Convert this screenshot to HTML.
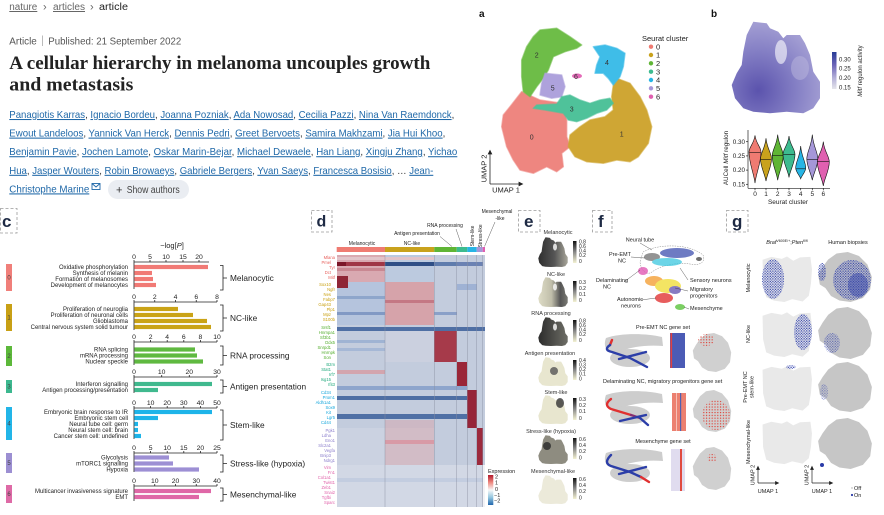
<!DOCTYPE html>
<html><head><meta charset="utf-8">
<style>
html,body{margin:0;padding:0;background:#fff;}
svg{display:block;}
text{font-family:"Liberation Sans",Arial,sans-serif;}
</style></head><body>
<svg width="884" height="515" viewBox="0 0 884 515" xmlns="http://www.w3.org/2000/svg">
<defs>
<path id="U" d="M25,1 L40,3 L43,8 L53,12 L58,19 L62,16 L77,16 L82,25 L88,38 L91,56 L99,67 L99,86 L91,97 L80,100 L62,99 L43,100 L25,99 L14,97 L4,86 L1,71 L6,58 L12,49 L14,34 L17,16 Z"/>
<path id="MU" d="M3,10 L20,4 L40,8 L50,3 L62,12 L75,5 L95,4 L98,30 L96,60 L92,85 L80,97 L60,92 L45,98 L25,95 L10,88 L4,60 Z"/>
<path id="HU" d="M35,3 L55,0 L75,8 L90,25 L98,50 L95,75 L82,92 L60,100 L40,97 L25,88 L15,72 L5,65 L2,45 L10,30 L20,15 Z"/>
<pattern id="pb" width="2.6" height="2.6" patternUnits="userSpaceOnUse"><circle cx="0.7" cy="0.7" r="0.7" fill="#2a3ba8"/><circle cx="2" cy="1.9" r="0.55" fill="#3a4ab8"/></pattern>
<pattern id="pr" width="2.8" height="2.8" patternUnits="userSpaceOnUse"><circle cx="1" cy="1" r="0.6" fill="#e03a30"/></pattern>
<linearGradient id="gk" x1="0" y1="0" x2="0" y2="1"><stop offset="0" stop-color="#111"/><stop offset="0.5" stop-color="#888"/><stop offset="1" stop-color="#f3f1d2"/></linearGradient>
<linearGradient id="gb" x1="0" y1="0" x2="0" y2="1"><stop offset="0" stop-color="#283c96"/><stop offset="0.35" stop-color="#6c64b8"/><stop offset="0.7" stop-color="#b4b0d8"/><stop offset="1" stop-color="#e4e4ea"/></linearGradient>
<linearGradient id="gx" x1="0" y1="0" x2="0" y2="1"><stop offset="0" stop-color="#b2182b"/><stop offset="0.25" stop-color="#ef8a80"/><stop offset="0.5" stop-color="#f7f7f7"/><stop offset="0.75" stop-color="#92c5de"/><stop offset="1" stop-color="#2166ac"/></linearGradient>
<radialGradient id="gpb" cx="0.3" cy="0.75" r="0.8"><stop offset="0" stop-color="#5b53ad"/><stop offset="0.55" stop-color="#8580c5"/><stop offset="1" stop-color="#a9a4d6"/></radialGradient>
<linearGradient id="e1" x1="0" y1="0" x2="1" y2="0"><stop offset="0" stop-color="#2e2e2e"/><stop offset="0.55" stop-color="#555"/><stop offset="1" stop-color="#a8a69a"/></linearGradient>
<linearGradient id="e2" x1="0" y1="0" x2="1" y2="0"><stop offset="0" stop-color="#dedcc6"/><stop offset="0.45" stop-color="#c0beaa"/><stop offset="0.75" stop-color="#555"/><stop offset="1" stop-color="#7a7a74"/></linearGradient>
<linearGradient id="e3" x1="0" y1="0" x2="1" y2="0"><stop offset="0" stop-color="#2c2c2c"/><stop offset="1" stop-color="#6e6e66"/></linearGradient>
</defs>

<!-- ===== HEADER ===== -->
<text x="9.3" y="10" font-size="10" fill="#666" text-decoration="underline" textLength="28" lengthAdjust="spacingAndGlyphs">nature</text>
<text x="43" y="10.5" font-size="11" fill="#666">›</text>
<text x="53" y="10" font-size="10" fill="#666" text-decoration="underline" textLength="32" lengthAdjust="spacingAndGlyphs">articles</text>
<text x="90" y="10.5" font-size="11" fill="#666">›</text>
<text x="99" y="10" font-size="10" fill="#222" textLength="29" lengthAdjust="spacingAndGlyphs">article</text>

<text x="9.3" y="44.5" font-size="10.5" fill="#555" textLength="27.5" lengthAdjust="spacingAndGlyphs">Article</text>
<line x1="42.5" y1="35.5" x2="42.5" y2="46" stroke="#aaa" stroke-width="0.8"/>
<text x="48.3" y="44.5" font-size="10.5" fill="#555" textLength="133" lengthAdjust="spacingAndGlyphs">Published: 21 September 2022</text>

<text x="9.3" y="69" font-size="19" font-weight="bold" fill="#222" style="font-family:'Liberation Serif',serif" textLength="421" lengthAdjust="spacingAndGlyphs">A cellular hierarchy in melanoma uncouples growth</text>
<text x="9.3" y="90.5" font-size="19" font-weight="bold" fill="#222" style="font-family:'Liberation Serif',serif" textLength="124" lengthAdjust="spacingAndGlyphs">and metastasis</text>

<g font-size="10.5" fill="#1f68a8">
<text x="9.3" y="118" textLength="445" lengthAdjust="spacingAndGlyphs"><tspan text-decoration="underline">Panagiotis Karras</tspan><tspan fill="#333">, </tspan><tspan text-decoration="underline">Ignacio Bordeu</tspan><tspan fill="#333">, </tspan><tspan text-decoration="underline">Joanna Pozniak</tspan><tspan fill="#333">, </tspan><tspan text-decoration="underline">Ada Nowosad</tspan><tspan fill="#333">, </tspan><tspan text-decoration="underline">Cecilia Pazzi</tspan><tspan fill="#333">, </tspan><tspan text-decoration="underline">Nina Van Raemdonck</tspan><tspan fill="#333">,</tspan></text>
<text x="9.3" y="136.6" textLength="436" lengthAdjust="spacingAndGlyphs"><tspan text-decoration="underline">Ewout Landeloos</tspan><tspan fill="#333">, </tspan><tspan text-decoration="underline">Yannick Van Herck</tspan><tspan fill="#333">, </tspan><tspan text-decoration="underline">Dennis Pedri</tspan><tspan fill="#333">, </tspan><tspan text-decoration="underline">Greet Bervoets</tspan><tspan fill="#333">, </tspan><tspan text-decoration="underline">Samira Makhzami</tspan><tspan fill="#333">, </tspan><tspan text-decoration="underline">Jia Hui Khoo</tspan><tspan fill="#333">,</tspan></text>
<text x="9.3" y="155.2" textLength="448" lengthAdjust="spacingAndGlyphs"><tspan text-decoration="underline">Benjamin Pavie</tspan><tspan fill="#333">, </tspan><tspan text-decoration="underline">Jochen Lamote</tspan><tspan fill="#333">, </tspan><tspan text-decoration="underline">Oskar Marin-Bejar</tspan><tspan fill="#333">, </tspan><tspan text-decoration="underline">Michael Dewaele</tspan><tspan fill="#333">, </tspan><tspan text-decoration="underline">Han Liang</tspan><tspan fill="#333">, </tspan><tspan text-decoration="underline">Xingju Zhang</tspan><tspan fill="#333">, </tspan><tspan text-decoration="underline">Yichao</tspan></text>
<text x="9.3" y="173.8" textLength="424" lengthAdjust="spacingAndGlyphs"><tspan text-decoration="underline">Hua</tspan><tspan fill="#333">, </tspan><tspan text-decoration="underline">Jasper Wouters</tspan><tspan fill="#333">, </tspan><tspan text-decoration="underline">Robin Browaeys</tspan><tspan fill="#333">, </tspan><tspan text-decoration="underline">Gabriele Bergers</tspan><tspan fill="#333">, </tspan><tspan text-decoration="underline">Yvan Saeys</tspan><tspan fill="#333">, </tspan><tspan text-decoration="underline">Francesca Bosisio</tspan><tspan fill="#333">, … </tspan><tspan text-decoration="underline">Jean-</tspan></text>
<text x="9.3" y="192.4" textLength="80" lengthAdjust="spacingAndGlyphs" text-decoration="underline">Christophe Marine</text>
</g>
<rect x="92" y="183.5" width="8" height="6" fill="none" stroke="#1f68a8" stroke-width="0.9"/>
<polyline points="92,183.5 96,187 100,183.5" fill="none" stroke="#1f68a8" stroke-width="0.9"/>
<rect x="108" y="180" width="81" height="19" rx="9.5" fill="#eaedf2"/>
<text x="116" y="193.5" font-size="11" fill="#333">+</text>
<text x="126.7" y="193" font-size="10" fill="#444" textLength="53" lengthAdjust="spacingAndGlyphs">Show authors</text>

<!-- ===== PANEL A ===== -->
<text x="479" y="17" font-size="10" font-weight="bold" fill="#111">a</text>
<g stroke-width="1.5" stroke-linejoin="round" stroke-opacity="0.6">
<polygon fill="#ee8680" stroke="#ee8680" points="521.7,91.7 540,100 561.7,103.3 566.7,120 566.7,136.7 570,146.7 561.7,153.3 563.3,166.7 556.7,171.7 546.7,166.7 533.3,173.3 520,170 513.3,160 506.7,146.7 501.7,126.7 503.3,115 510,106.7"/>
<polygon fill="#cfa634" stroke="#cfa634" points="616.7,78.3 630,83.3 640,96.7 646.7,110 651.7,126.7 648.3,143.3 638.3,156.7 630,161.7 616.7,160 603.3,163.3 586.7,161.7 575,156.7 568.3,146.7 570,135 580,126.7 590,120 605,116.7 613.3,110 611.7,96.7 613.3,85"/>
<polygon fill="#6ebd48" stroke="#6ebd48" points="540,30 556.7,28.3 570,36.7 581.7,45 576.7,48.3 565,51.7 553.3,56.7 548.3,70 543.3,78.3 536.7,86.7 530,96.7 523.3,91.7 521.7,76.7 521.7,60 526.7,46.7 533.3,36.7"/>
<polygon fill="#aea2dc" stroke="#aea2dc" points="545,73.3 561.7,75 565,86.7 561.7,96.7 551.7,98.3 540,95 541.7,83.3"/>
<polygon fill="#4fc29a" stroke="#4fc29a" points="561.7,96.7 570,95 580,100 590,103.3 600,100 610,98.3 613.3,103.3 606.7,110 596.7,113.3 586.7,118.3 576.7,121.7 568.3,120 563.3,113.3 545,110 533.3,108.3 536.7,105 556.7,104"/>
<polygon fill="#3fbde8" stroke="#3fbde8" points="593.3,46.7 605,45 616.7,48.3 625,53.3 623.3,66.7 620,76.7 613.3,85 608.3,78.3 603.3,73.3 595,73.3 596.7,65 600,56.7"/>
</g>
<ellipse cx="577" cy="76" rx="5" ry="2.5" fill="#e46ab8"/>
<g font-size="7" fill="#333" text-anchor="middle">
<text x="536.7" y="57.5">2</text><text x="607" y="65">4</text><text x="576" y="79">6</text><text x="552.7" y="90.5">5</text><text x="571.7" y="111.5">3</text><text x="531.7" y="139.5">0</text><text x="621.7" y="136.5">1</text>
</g>
<text x="642" y="41" font-size="7.5" fill="#222">Seurat cluster</text>
<g font-size="7.5" fill="#222">
<circle cx="651" cy="46.7" r="2.2" fill="#ef7b72"/><text x="656" y="49.3">0</text>
<circle cx="651" cy="55" r="2.2" fill="#c9a21c"/><text x="656" y="57.6">1</text>
<circle cx="651" cy="63.3" r="2.2" fill="#5fb535"/><text x="656" y="65.9">2</text>
<circle cx="651" cy="71.7" r="2.2" fill="#3dbb8f"/><text x="656" y="74.3">3</text>
<circle cx="651" cy="80" r="2.2" fill="#27b5e5"/><text x="656" y="82.6">4</text>
<circle cx="651" cy="88.3" r="2.2" fill="#a597d8"/><text x="656" y="90.9">5</text>
<circle cx="651" cy="96.7" r="2.2" fill="#e060b0"/><text x="656" y="99.3">6</text>
</g>
<g stroke="#222" stroke-width="0.8" fill="#222">
<line x1="490" y1="184" x2="490" y2="153"/><polygon points="488.3,154 491.7,154 490,150.5"/>
<line x1="490" y1="184" x2="520" y2="184"/><polygon points="519,182.3 519,185.7 522.5,184"/>
</g>
<text transform="translate(486.5,168.5) rotate(-90)" font-size="7.5" fill="#222" text-anchor="middle">UMAP 2</text>
<text x="506" y="192.5" font-size="7.5" fill="#222" text-anchor="middle">UMAP 1</text>

<!-- ===== PANEL B ===== -->
<text x="711" y="17" font-size="10" font-weight="bold" fill="#111">b</text>
<path d="M753.3,21.7 L766.7,23.3 L770,28.3 L778.3,31.7 L783.3,38.3 L786.7,35 L800,35 L805,43.3 L810,55 L813.3,71.7 L820,81.7 L820,98.3 L813.3,108.3 L803.3,113.3 L786.7,111.7 L770,113.3 L753.3,111.7 L743.3,108.3 L735,98.3 L731.7,85 L736.7,73.3 L741.7,65 L743.3,51.7 L746.7,35 Z" fill="url(#gpb)"/>
<ellipse cx="781" cy="52" rx="6" ry="12" fill="#fff" opacity="0.6"/>
<ellipse cx="800" cy="68" rx="9" ry="12" fill="#bcb7de" opacity="0.5"/>
<rect x="832" y="52" width="4.5" height="37" fill="url(#gb)"/>
<g font-size="6" fill="#222">
<text x="839" y="61.3">0.30</text><text x="839" y="70.7">0.25</text><text x="839" y="80">0.20</text><text x="839" y="89.3">0.15</text>
</g>
<text transform="translate(862,71) rotate(-90)" font-size="6" fill="#222" text-anchor="middle"><tspan font-style="italic">Mitf</tspan> regulon activity</text>

<g stroke="#222" stroke-width="0.7">
<line x1="748" y1="130" x2="748" y2="188.3"/><line x1="748" y1="188.3" x2="830" y2="188.3"/>
<line x1="746" y1="141.7" x2="748" y2="141.7"/><line x1="746" y1="155.9" x2="748" y2="155.9"/><line x1="746" y1="170.1" x2="748" y2="170.1"/><line x1="746" y1="184.3" x2="748" y2="184.3"/>
<line x1="755" y1="188.3" x2="755" y2="190.3"/><line x1="766" y1="188.3" x2="766" y2="190.3"/><line x1="777.7" y1="188.3" x2="777.7" y2="190.3"/><line x1="789" y1="188.3" x2="789" y2="190.3"/><line x1="800.7" y1="188.3" x2="800.7" y2="190.3"/><line x1="812.3" y1="188.3" x2="812.3" y2="190.3"/><line x1="823.3" y1="188.3" x2="823.3" y2="190.3"/>
</g>
<g font-size="6.3" fill="#222" text-anchor="end">
<text x="745" y="143.8">0.30</text><text x="745" y="158">0.25</text><text x="745" y="172.2">0.20</text><text x="745" y="186.4">0.15</text>
</g>
<g font-size="6.5" fill="#222" text-anchor="middle">
<text x="755" y="196">0</text><text x="766" y="196">1</text><text x="777.7" y="196">2</text><text x="789" y="196">3</text><text x="800.7" y="196">4</text><text x="812.3" y="196">5</text><text x="823.3" y="196">6</text>
<text x="788" y="204">Seurat cluster</text>
</g>
<text transform="translate(728,158) rotate(-90)" font-size="6.3" fill="#222" text-anchor="middle">AUCell <tspan font-style="italic">Mitf</tspan> regulon</text>
<g stroke="#111" stroke-width="0.6">
<path fill="#ef7b72" d="M755,135.4 C756,143.7 761,147 761,152 C761,163 756,173.8 755,183.1 C754,173.8 749,163 749,152 C749,147 754,143.7 755,135.4Z"/>
<path fill="#c9a21c" d="M766,138.3 C767,148.6 771.5,152.8 771.5,159 C771.5,166.7 767,174.5 766,181.1 C765,174.5 760.5,166.7 760.5,159 C760.5,152.8 765,148.6 766,138.3Z"/>
<path fill="#5fb535" d="M777.7,134.6 C778.7,145.3 783.2,149.6 783.2,156 C783.2,164.5 778.7,173 777.7,180.2 C776.7,173 772.2,164.5 772.2,156 C772.2,149.6 776.7,145.3 777.7,134.6Z"/>
<path fill="#3dbb8f" d="M789,136 C790,145.3 795,149 795,154.5 C795,162.5 790,170.5 789,177.4 C788,170.5 783,162.5 783,154.5 C783,149 788,145.3 789,136Z"/>
<path fill="#27b5e5" d="M800.7,146 C801.5,157 805.7,161.4 805.7,168 C805.7,171.8 801.7,175.6 800.7,178.8 C799.7,175.6 795.7,171.8 795.7,168 C795.7,161.4 799.9,157 800.7,146Z"/>
<path fill="#a597d8" d="M812.3,134.6 C813.3,146.8 817.8,151.7 817.8,159 C817.8,166.4 813.3,173.8 812.3,180.2 C811.3,173.8 806.8,166.4 806.8,159 C806.8,151.7 811.3,146.8 812.3,134.6Z"/>
<path fill="#e060b0" d="M823.3,141.7 C824.3,151.9 829.3,155.9 829.3,162 C829.3,170.4 824.3,178.7 823.3,185.9 C822.3,178.7 817.3,170.4 817.3,162 C817.3,155.9 822.3,151.9 823.3,141.7Z"/>
<line x1="749.3" y1="152.5" x2="760.7" y2="152.5"/><line x1="760.8" y1="159.4" x2="771.2" y2="159.4"/><line x1="772.4" y1="155.4" x2="783" y2="155.4"/><line x1="783.2" y1="154.5" x2="794.8" y2="154.5"/><line x1="795.9" y1="168.8" x2="805.5" y2="168.8"/><line x1="807" y1="159.4" x2="817.6" y2="159.4"/><line x1="817.5" y1="161.7" x2="829.1" y2="161.7"/>
</g>

<!-- ===== PANEL C ===== -->
<rect x="0.5" y="208.5" width="16.5" height="24.5" fill="none" stroke="#9a9a9a" stroke-width="0.8" stroke-dasharray="3,2"/>
<text x="2" y="227" font-size="17" font-weight="bold" fill="#1e2a44">c</text>
<text x="172" y="248" font-size="7.5" fill="#222" text-anchor="middle">−log[<tspan font-style="italic">P</tspan>]</text>

<g stroke="#222" stroke-width="0.8" fill="none">
<line x1="134" y1="262" x2="209" y2="262"/><line x1="134" y1="262" x2="134" y2="289"/>
<path d="M150,262v-2M166,262v-2M183,262v-2M199,262v-2M134,262v-2"/>
<path d="M220,265.5h3v24.5h-3M223,278h4"/>
<line x1="134" y1="302" x2="217" y2="302"/><line x1="134" y1="302" x2="134" y2="330"/>
<path d="M134,302v-2M154.75,302v-2M175.5,302v-2M196.25,302v-2M217,302v-2"/>
<path d="M220,305h3v26h-3M223,318h4"/>
<line x1="134" y1="342" x2="217" y2="342"/><line x1="134" y1="342" x2="134" y2="365"/>
<path d="M134,342v-2M150.6,342v-2M167.2,342v-2M183.8,342v-2M200.4,342v-2M217,342v-2"/>
<path d="M220,346h3v19h-3M223,355.5h4"/>
<line x1="134" y1="377" x2="217" y2="377"/><line x1="134" y1="377" x2="134" y2="393"/>
<path d="M134,377v-2M161.7,377v-2M189.3,377v-2M217,377v-2"/>
<path d="M220,380h3v13h-3M223,386.5h4"/>
<line x1="134" y1="408" x2="217" y2="408"/><line x1="134" y1="408" x2="134" y2="439"/>
<path d="M134,408v-2M150.6,408v-2M167.2,408v-2M183.8,408v-2M200.4,408v-2M217,408v-2"/>
<path d="M220,410h3v30h-3M223,425h4"/>
<line x1="134" y1="453" x2="217" y2="453"/><line x1="134" y1="453" x2="134" y2="472"/>
<path d="M134,453v-2M150.6,453v-2M167.2,453v-2M183.8,453v-2M200.4,453v-2M217,453v-2"/>
<path d="M220,455h3v17h-3M223,463.5h4"/>
<line x1="134" y1="486" x2="217" y2="486"/><line x1="134" y1="486" x2="134" y2="501"/>
<path d="M134,486v-2M154.75,486v-2M175.5,486v-2M196.25,486v-2M217,486v-2"/>
<path d="M220,488h3v13h-3M223,494.5h4"/>
</g>

<g font-size="6.8" fill="#222" text-anchor="middle">
<text x="134" y="259">0</text><text x="150" y="259">5</text><text x="166" y="259">10</text><text x="183" y="259">15</text><text x="199" y="259">20</text>
<text x="134" y="299">0</text><text x="154.75" y="299">2</text><text x="175.5" y="299">4</text><text x="196.25" y="299">6</text><text x="217" y="299">8</text>
<text x="134" y="339">0</text><text x="150.6" y="339">2</text><text x="167.2" y="339">4</text><text x="183.8" y="339">6</text><text x="200.4" y="339">8</text><text x="217" y="339">10</text>
<text x="134" y="374">0</text><text x="161.7" y="374">10</text><text x="189.3" y="374">20</text><text x="217" y="374">30</text>
<text x="134" y="405">0</text><text x="150.6" y="405">10</text><text x="167.2" y="405">20</text><text x="183.8" y="405">30</text><text x="200.4" y="405">40</text><text x="217" y="405">50</text>
<text x="134" y="450">0</text><text x="150.6" y="450">5</text><text x="167.2" y="450">10</text><text x="183.8" y="450">15</text><text x="200.4" y="450">20</text><text x="217" y="450">25</text>
<text x="134" y="483">0</text><text x="154.75" y="483">10</text><text x="175.5" y="483">20</text><text x="196.25" y="483">30</text><text x="217" y="483">40</text>
</g>

<g fill="#f17a75"><rect x="134.4" y="264.9" width="73.6" height="4.2"/><rect x="134.4" y="270.9" width="17.6" height="4.2"/><rect x="134.4" y="276.9" width="18.6" height="4.2"/><rect x="134.4" y="282.9" width="21.6" height="4.2"/></g>
<g fill="#caa316"><rect x="134.4" y="306.9" width="43.6" height="4.2"/><rect x="134.4" y="312.9" width="58.6" height="4.2"/><rect x="134.4" y="318.9" width="72.6" height="4.2"/><rect x="134.4" y="324.9" width="76.6" height="4.2"/></g>
<g fill="#5fb940"><rect x="134.4" y="347.4" width="60.6" height="4.2"/><rect x="134.4" y="353.4" width="62.6" height="4.2"/><rect x="134.4" y="359.4" width="68.6" height="4.2"/></g>
<g fill="#40b98e"><rect x="134.4" y="381.9" width="77.6" height="4.2"/><rect x="134.4" y="387.9" width="23.6" height="4.2"/></g>
<g fill="#1db4e9"><rect x="134.4" y="409.9" width="77.6" height="4.2"/><rect x="134.4" y="415.9" width="23.6" height="4.2"/><rect x="134.4" y="421.9" width="3.6" height="4.2"/><rect x="134.4" y="427.9" width="3.6" height="4.2"/><rect x="134.4" y="433.9" width="6.6" height="4.2"/></g>
<g fill="#9d8fd4"><rect x="134.4" y="455.4" width="34.6" height="4.2"/><rect x="134.4" y="461.4" width="38.6" height="4.2"/><rect x="134.4" y="467.4" width="64.6" height="4.2"/></g>
<g fill="#df67a7"><rect x="134.4" y="488.9" width="76.6" height="4.2"/><rect x="134.4" y="494.9" width="64.6" height="4.2"/></g>

<g font-size="6" fill="#222" text-anchor="end">
<text x="128" y="269">Oxidative phosphorylation</text><text x="128" y="275">Synthesis of melanin</text><text x="128" y="281">Formation of melanosomes</text><text x="128" y="287">Development of melanocytes</text>
<text x="128" y="311">Proliferation of neuroglia</text><text x="128" y="317">Proliferation of neuronal cells</text><text x="128" y="323">Glioblastoma</text><text x="128" y="329">Central nervous system solid tumour</text>
<text x="128" y="351.5">RNA splicing</text><text x="128" y="357.5">mRNA processing</text><text x="128" y="363.5">Nuclear speckle</text>
<text x="128" y="386">Interferon signalling</text><text x="128" y="392">Antigen processing/presentation</text>
<text x="128" y="414">Embryonic brain response to IR</text><text x="128" y="420">Embryonic stem cell</text><text x="128" y="426">Neural tube cell: germ</text><text x="128" y="432">Neural stem cell: brain</text><text x="128" y="438">Cancer stem cell: undefined</text>
<text x="128" y="459.5">Glycolysis</text><text x="128" y="465.5">mTORC1 signalling</text><text x="128" y="471.5">Hypoxia</text>
<text x="128" y="493">Multicancer invasiveness signature</text><text x="128" y="499">EMT</text>
</g>
<g font-size="8.3" fill="#222">
<text x="230" y="281">Melanocytic</text><text x="230" y="321">NC-like</text><text x="230" y="358.5">RNA processing</text><text x="230" y="389.5">Antigen presentation</text><text x="230" y="428">Stem-like</text><text x="230" y="466.5">Stress-like (hypoxia)</text><text x="230" y="497.5">Mesenchymal-like</text>
</g>
<rect x="6" y="264" width="6" height="27" fill="#f07f7a"/>
<rect x="6" y="304" width="6" height="27" fill="#c8a015"/>
<rect x="6" y="346" width="6" height="20" fill="#5cb83a"/>
<rect x="6" y="380" width="6" height="13" fill="#3cb88f"/>
<rect x="6" y="407" width="6" height="33" fill="#22b5e8"/>
<rect x="6" y="453" width="6" height="20" fill="#9c8fd2"/>
<rect x="6" y="485" width="6" height="18" fill="#de6aa6"/>
<g font-size="6" fill="#444" text-anchor="middle">
<text x="9" y="279.5">0</text><text x="9" y="319.5">1</text><text x="9" y="358">2</text><text x="9" y="388.5">3</text><text x="9" y="425.5">4</text><text x="9" y="465">5</text><text x="9" y="496">6</text>
</g>

<!-- ===== PANEL D ===== -->
<rect x="311.5" y="210.5" width="20.5" height="21.5" fill="none" stroke="#9a9a9a" stroke-width="0.8" stroke-dasharray="3,2"/>
<text x="316.5" y="226.7" font-size="16" font-weight="bold" fill="#1e2a44">d</text>
<g font-size="5" fill="#222" text-anchor="middle">
<text x="497" y="213">Mesenchymal</text><text x="500" y="220">-like</text>
<text x="445" y="227">RNA processing</text>
<text x="417" y="235">Antigen presentation</text>
<text x="362" y="245">Melanocytic</text><text x="412" y="245">NC-like</text>
<text transform="translate(474,236) rotate(-90)">Stem-like</text>
<text transform="translate(482,236) rotate(-90)">Stress-like</text>
</g>
<g stroke="#333" stroke-width="0.4">
<line x1="495" y1="222" x2="484.5" y2="246.5"/>
<line x1="456" y1="229" x2="462" y2="246.5"/>
<line x1="440" y1="236.5" x2="452" y2="246.5"/>
</g>
<rect x="336.7" y="247" width="48.3" height="5" fill="#ef7b72"/>
<rect x="385" y="247" width="49.3" height="5" fill="#c9a21c"/>
<rect x="434.3" y="247" width="22.4" height="5" fill="#5fb535"/>
<rect x="456.7" y="247" width="10.6" height="5" fill="#3dbb8f"/>
<rect x="467.3" y="247" width="9.4" height="5" fill="#27b5e5"/>
<rect x="476.7" y="247" width="6" height="5" fill="#a597d8"/>
<rect x="482.7" y="247" width="2.3" height="5" fill="#e060b0"/>

<rect x="337" y="255" width="148" height="252" fill="#c3ccdd"/>
<rect x="337" y="255" width="48" height="27" fill="#d9a9b1"/>
<rect x="385" y="255" width="49" height="27" fill="#bccadf"/>
<rect x="337" y="257" width="97" height="3" fill="#e2c4ca"/>
<rect x="337" y="262" width="48" height="4" fill="#a03646"/>
<rect x="337" y="262" width="9" height="4" fill="#7c1628"/>
<rect x="385" y="262" width="49" height="4" fill="#2f4f86"/>
<rect x="434" y="262" width="23" height="4" fill="#5f7cad"/>
<rect x="457" y="262" width="26" height="4" fill="#6b82b3"/>
<rect x="337" y="268" width="48" height="3" fill="#c98892"/>
<rect x="337" y="282" width="48" height="43" fill="#b5c4dd"/>
<rect x="337" y="276" width="11" height="12" fill="#8f2636"/>
<rect x="385" y="282" width="49" height="43" fill="#d6a3aa"/>
<rect x="385" y="300" width="49" height="3" fill="#c47884"/>
<rect x="337" y="296" width="48" height="3" fill="#8ea6cb"/>
<rect x="337" y="312" width="48" height="3" fill="#8199c4"/>
<rect x="434" y="312" width="23" height="3" fill="#8aa0c8"/>
<rect x="457" y="284" width="20" height="6" fill="#9fb2d4"/>
<rect x="337" y="327" width="148" height="4" fill="#4f6fa4"/>
<rect x="434" y="331" width="23" height="31" fill="#a63a4a"/>
<rect x="337" y="340" width="48" height="3" fill="#9fb3d3"/>
<rect x="337" y="348" width="48" height="3" fill="#a6b8d6"/>
<rect x="385" y="331" width="49" height="31" fill="#cbd0df"/>
<rect x="457" y="362" width="10" height="28" fill="#9a2638"/>
<rect x="337" y="370" width="48" height="4" fill="#d3a5ae"/>
<rect x="337" y="386" width="130" height="4" fill="#8ea5cc"/>
<rect x="467" y="390" width="10" height="38" fill="#962539"/>
<rect x="337" y="396" width="130" height="4" fill="#4e6ea3"/>
<rect x="337" y="414" width="130" height="5" fill="#5070a5"/>
<rect x="385" y="420" width="49" height="8" fill="#cdb8c4"/>
<rect x="477" y="428" width="6" height="37" fill="#9c2a3d"/>
<rect x="385" y="428" width="49" height="37" fill="#d2bcc6"/>
<rect x="337" y="428" width="48" height="37" fill="#cbd2e1"/>
<rect x="385" y="440" width="49" height="4" fill="#d89aa6"/>
<rect x="337" y="465" width="146" height="42" fill="#d2d8e5"/>
<rect x="337" y="478" width="146" height="4" fill="#c3cde0"/>
<rect x="483" y="465" width="2" height="42" fill="#f2f2f6"/>
<g stroke="#8a8fa0" stroke-width="0.6" opacity="0.7">
<line x1="385" y1="255" x2="385" y2="507"/><line x1="434.3" y1="255" x2="434.3" y2="507"/><line x1="456.7" y1="255" x2="456.7" y2="507"/><line x1="467.3" y1="255" x2="467.3" y2="507"/><line x1="476.7" y1="255" x2="476.7" y2="507"/><line x1="482.7" y1="255" x2="482.7" y2="507"/>
</g>
<g font-size="4.2" text-anchor="end">
<g fill="#e8625e"><text x="335" y="259">Mlana</text><text x="331" y="264">Pmel</text><text x="335" y="269">Tyr</text><text x="331" y="274">Dct</text><text x="335" y="279">Mitf</text></g>
<g fill="#c9a010"><text x="331" y="286">Sox10</text><text x="335" y="291">Ngfr</text><text x="331" y="296">Nes</text><text x="335" y="301">Fabp7</text><text x="331" y="306">Gap43</text><text x="335" y="311">Plp1</text><text x="331" y="316">Mpz</text><text x="335" y="321">S100b</text></g>
<g fill="#52ad2c"><text x="331" y="329">Srsf1</text><text x="335" y="334">Hnrnpa1</text><text x="331" y="339">Sf3b1</text><text x="335" y="344">Ddx5</text><text x="331" y="349">Snrpd1</text><text x="335" y="354">Hnrnpk</text><text x="331" y="359">Son</text></g>
<g fill="#22a97e"><text x="335" y="366">B2m</text><text x="331" y="371">Stat1</text><text x="335" y="376">Irf7</text><text x="331" y="381">Isg15</text><text x="335" y="386">Ifit3</text></g>
<g fill="#14a6dc"><text x="331" y="394">Cd34</text><text x="335" y="399">Prom1</text><text x="331" y="404">Aldh1a1</text><text x="335" y="409">Sox9</text><text x="331" y="414">Kit</text><text x="335" y="419">Lgr5</text><text x="331" y="424">Cd44</text></g>
<g fill="#8c7fcc"><text x="335" y="432">Pgk1</text><text x="331" y="437">Ldha</text><text x="335" y="442">Eno1</text><text x="331" y="447">Slc2a1</text><text x="335" y="452">Vegfa</text><text x="331" y="457">Bnip3</text><text x="335" y="462">Ndrg1</text></g>
<g fill="#e062aa"><text x="331" y="469">Vim</text><text x="335" y="474">Fn1</text><text x="331" y="479">Col1a1</text><text x="335" y="484">Twist1</text><text x="331" y="489">Zeb1</text><text x="335" y="494">Snai2</text><text x="331" y="499">Tgfbi</text><text x="335" y="504">Sparc</text></g>
</g>
<text x="488" y="473" font-size="5.5" fill="#222">Expression</text>
<rect x="488" y="475" width="5.3" height="30" fill="url(#gx)"/>
<g font-size="5.5" fill="#222">
<text x="495" y="478.5">2</text><text x="495" y="484.5">1</text><text x="495" y="491">0</text><text x="494" y="497">−1</text><text x="494" y="502.5">−2</text>
</g>

<!-- ===== PANEL E ===== -->
<rect x="518.5" y="210.5" width="21.5" height="21.5" fill="none" stroke="#9a9a9a" stroke-width="0.8" stroke-dasharray="3,2"/>
<text x="524" y="227" font-size="17" font-weight="bold" fill="#1e2a44">e</text>
<g font-size="5.5" fill="#333" text-anchor="middle">
<text x="558" y="234">Melanocytic</text>
<text x="556" y="276">NC-like</text>
<text x="551" y="315">RNA processing</text>
<text x="550" y="355">Antigen presentation</text>
<text x="556" y="394">Stem-like</text>
<text x="551" y="433">Stress-like (hypoxia)</text>
<text x="553" y="473">Mesenchymal-like</text>
</g>
<use href="#U" transform="translate(538,237) scale(0.3,0.3)" fill="url(#e1)"/>
<use href="#U" transform="translate(538,277) scale(0.3,0.3)" fill="url(#e2)"/>
<use href="#U" transform="translate(538,317) scale(0.3,0.29)" fill="url(#e3)"/>
<use href="#U" transform="translate(538,357) scale(0.3,0.29)" fill="#e8e6cf"/>
<ellipse cx="554" cy="371" rx="4" ry="4" fill="#555" opacity="0.8"/>
<use href="#U" transform="translate(538,395) scale(0.3,0.29)" fill="#e8e6cf"/>
<ellipse cx="560" cy="403" rx="4" ry="5" fill="#333" opacity="0.8"/>
<use href="#U" transform="translate(538,435) scale(0.3,0.29)" fill="#8e8c80"/>
<ellipse cx="547" cy="446" rx="4" ry="4" fill="#2a2a2a" opacity="0.8"/>
<use href="#U" transform="translate(538,475) scale(0.3,0.29)" fill="#eceada"/>
<g fill="#fff" opacity="0.8">
<ellipse cx="555" cy="247" rx="2" ry="3.5"/><ellipse cx="555" cy="287" rx="2" ry="3.5"/><ellipse cx="555" cy="327" rx="2" ry="3.5"/>
</g>
<rect x="573" y="241" width="3.5" height="22" fill="url(#gk)"/>
<rect x="573" y="281" width="3.5" height="21" fill="url(#gk)"/>
<rect x="573" y="320" width="3.5" height="22" fill="url(#gk)"/>
<rect x="573" y="360" width="3.5" height="20" fill="url(#gk)"/>
<rect x="573" y="398" width="3.5" height="22" fill="url(#gk)"/>
<rect x="573" y="438" width="3.5" height="21" fill="url(#gk)"/>
<rect x="573" y="478" width="3.5" height="21" fill="url(#gk)"/>
<g font-size="5" fill="#222">
<text x="579" y="243.5">0.8</text><text x="579" y="248">0.6</text><text x="579" y="252.5">0.4</text><text x="579" y="257">0.2</text><text x="579" y="263">0</text>
<text x="579" y="284">0.3</text><text x="579" y="290">0.2</text><text x="579" y="296">0.1</text><text x="579" y="302">0</text>
<text x="579" y="322.5">0.8</text><text x="579" y="327">0.6</text><text x="579" y="331.5">0.4</text><text x="579" y="336">0.2</text><text x="579" y="342">0</text>
<text x="579" y="362">0.4</text><text x="579" y="366.5">0.3</text><text x="579" y="371">0.2</text><text x="579" y="375.5">0.1</text><text x="579" y="380.5">0</text>
<text x="579" y="401">0.3</text><text x="579" y="407">0.2</text><text x="579" y="413">0.1</text><text x="579" y="420">0</text>
<text x="579" y="441">0.6</text><text x="579" y="447">0.4</text><text x="579" y="453">0.2</text><text x="579" y="459.5">0</text>
<text x="579" y="481">0.6</text><text x="579" y="487">0.4</text><text x="579" y="493">0.2</text><text x="579" y="499.5">0</text>
</g>

<!-- ===== PANEL F ===== -->
<rect x="592.5" y="210.5" width="19.5" height="21.5" fill="none" stroke="#9a9a9a" stroke-width="0.8" stroke-dasharray="3,2"/>
<text x="598" y="227" font-size="17" font-weight="bold" fill="#1e2a44">f</text>
<path d="M643,252 C660,243 690,244 703,255 C706,262 700,266 690,264 C675,262 660,266 652,272 C646,276 641,270 640,262 Z" fill="none" stroke="#888" stroke-width="0.5" stroke-dasharray="1.5,1"/>
<g opacity="0.75">
<ellipse cx="677" cy="253" rx="17" ry="5" fill="#3e4fb0"/>
<ellipse cx="652" cy="257" rx="8" ry="4" fill="#707070"/>
<ellipse cx="667" cy="262" rx="15" ry="4" fill="#3cc8e0"/>
<ellipse cx="643" cy="271" rx="5" ry="4" fill="#e050b0"/>
<ellipse cx="654" cy="281" rx="9" ry="5" fill="#f39a2a"/>
<ellipse cx="668" cy="286" rx="13" ry="7" fill="#f0dc30"/>
<ellipse cx="675" cy="290" rx="6" ry="4" fill="#6050b0"/>
<ellipse cx="664" cy="298" rx="9" ry="5" fill="#e02828"/>
<ellipse cx="680" cy="307" rx="5" ry="3" fill="#50c030"/>
<ellipse cx="699" cy="259" rx="3" ry="2" fill="#404040"/>
</g>
<g stroke="#333" stroke-width="0.4">
<line x1="640" y1="243" x2="652" y2="250"/><line x1="631" y1="257" x2="645" y2="258"/><line x1="624" y1="282" x2="640" y2="270"/><line x1="641" y1="300" x2="656" y2="298"/><line x1="688" y1="280" x2="680" y2="268"/><line x1="688" y1="291" x2="675" y2="288"/><line x1="689" y1="309" x2="684" y2="307"/>
</g>
<g font-size="5.5" fill="#222">
<text x="640" y="241.5" text-anchor="middle">Neural tube</text>
<text x="620" y="256" text-anchor="middle">Pre-EMT</text><text x="622" y="262.5" text-anchor="middle">NC</text>
<text x="612" y="282" text-anchor="middle">Delaminating</text><text x="607" y="288.5" text-anchor="middle">NC</text>
<text x="630" y="301" text-anchor="middle">Autonomic</text><text x="631" y="307.5" text-anchor="middle">neurons</text>
<text x="690" y="282">Sensory neurons</text>
<text x="690" y="291">Migratory</text><text x="690" y="297.5">progenitors</text>
<text x="690" y="310">Mesenchyme</text>
<text x="663" y="329" text-anchor="middle">Pre-EMT NC gene set</text>
<text x="603" y="383">Delaminating NC, migratory progenitors gene set</text>
<text x="663" y="443" text-anchor="middle">Mesenchyme gene set</text>
</g>
<g id="tr1" fill="#cdcdcd">
<path d="M606,338 C620,333 645,333 662,337 L663,346 C650,345 635,346 624,350 L613,353 C606,352 603,346 606,338 Z"/>
<ellipse cx="630" cy="358" rx="20" ry="9"/>
</g>
<use href="#tr1" transform="translate(0,57)"/>
<use href="#tr1" transform="translate(0,115)"/>
<g fill="none" stroke-width="2.4" stroke-linecap="round" stroke-linejoin="round">
<path d="M612,340 L610,345" stroke="#e03030"/>
<path d="M610,345 Q603,350 612,352 L630,358 L647,367" stroke="#2c3ea8"/>
<path d="M619,359 L646,352" stroke="#2c3ea8"/>
<path d="M611,399 Q603,405 611,409 L631,415" stroke="#e03030"/>
<path d="M631,415 L640,418" stroke="#8a3070"/>
<path d="M640,418 L648,425" stroke="#2c3ea8"/>
<path d="M620,421 L646,415" stroke="#2c3ea8"/>
<path d="M611,455 Q603,463 611,466 L630,472 L641,477" stroke="#2c3ea8"/>
<path d="M641,477 L649,482" stroke="#e03030"/>
<path d="M619,474 L646,467" stroke="#2c3ea8"/>
</g>
<rect x="670" y="333" width="15" height="35" fill="#4b5bb5"/>
<rect x="670.5" y="333" width="1.6" height="35" fill="#e04040"/>
<rect x="672" y="393" width="14" height="38" fill="#ec8070"/>
<rect x="680" y="393" width="1.2" height="38" fill="#5060b0"/>
<rect x="676" y="393" width="1" height="38" fill="#f6c0b6"/>
<rect x="671" y="449" width="14" height="42" fill="#e0dcef"/>
<rect x="680" y="449" width="2" height="42" fill="#e04a40"/>
<use href="#HU" transform="translate(692,333) scale(0.4,0.39)" fill="#d0d0d0"/>
<use href="#HU" transform="translate(692,390) scale(0.4,0.42)" fill="#d0d0d0"/>
<use href="#HU" transform="translate(692,447) scale(0.4,0.43)" fill="#d0d0d0"/>
<ellipse cx="706" cy="340" rx="8" ry="6" fill="url(#pr)"/>
<ellipse cx="716" cy="415" rx="14" ry="15" fill="url(#pr)"/>
<ellipse cx="712" cy="458" rx="5" ry="4" fill="url(#pr)"/>

<!-- ===== PANEL G ===== -->
<rect x="726.5" y="210.5" width="21.5" height="21.5" fill="none" stroke="#9a9a9a" stroke-width="0.8" stroke-dasharray="3,2"/>
<text x="732" y="227" font-size="17" font-weight="bold" fill="#1e2a44">g</text>
<g font-size="5.5" fill="#222" text-anchor="middle">
<text x="787" y="244"><tspan font-style="italic">Braf</tspan><tspan font-size="3.6" dy="-2">V600E/+</tspan><tspan dy="2">;</tspan><tspan font-style="italic">Pten</tspan><tspan font-size="3.6" dy="-2">fl/fl</tspan></text>
<text x="848" y="244">Human biopsies</text>
<text transform="translate(750,278) rotate(-90)">Melanocytic</text>
<text transform="translate(750,334) rotate(-90)">NC-like</text>
<text transform="translate(747,387) rotate(-90)">Pre-EMT NC</text>
<text transform="translate(753.5,387) rotate(-90)">stem-like</text>
<text transform="translate(750,442) rotate(-90)">Mesenchymal-like</text>
</g>
<use href="#MU" transform="translate(761,255) scale(0.52,0.48)" fill="#e9e9e9"/>
<use href="#MU" transform="translate(761,311) scale(0.52,0.47)" fill="#e9e9e9"/>
<use href="#MU" transform="translate(761,365) scale(0.52,0.47)" fill="#e9e9e9"/>
<use href="#MU" transform="translate(761,420) scale(0.52,0.45)" fill="#e9e9e9"/>
<use href="#HU" transform="translate(817,252) scale(0.56,0.5)" fill="#c6c6c6"/>
<use href="#HU" transform="translate(817,307) scale(0.56,0.52)" fill="#c6c6c6"/>
<use href="#HU" transform="translate(817,362) scale(0.56,0.5)" fill="#c6c6c6"/>
<use href="#HU" transform="translate(817,418) scale(0.56,0.51)" fill="#c6c6c6"/>
<ellipse cx="773" cy="279" rx="11" ry="20" fill="url(#pb)"/>
<ellipse cx="803" cy="332" rx="9" ry="18" fill="url(#pb)"/>
<ellipse cx="791" cy="367" rx="5" ry="2" fill="url(#pb)"/>
<ellipse cx="852" cy="280" rx="19" ry="20" fill="url(#pb)"/>
<ellipse cx="858" cy="285" rx="10" ry="12" fill="#3444aa" opacity="0.5"/>
<ellipse cx="822" cy="272" rx="4" ry="9" fill="url(#pb)"/>
<ellipse cx="832" cy="343" rx="8" ry="10" fill="url(#pb)" opacity="0.7"/>
<ellipse cx="824" cy="392" rx="4" ry="8" fill="url(#pb)" opacity="0.5"/>
<circle cx="822" cy="465" r="2" fill="#2a3ba8"/>
<g stroke="#222" stroke-width="0.7" fill="#222">
<line x1="758" y1="483" x2="758" y2="469"/><polygon points="756.6,469.5 759.4,469.5 758,466.5"/>
<line x1="758" y1="483" x2="776" y2="483"/><polygon points="775.5,481.6 775.5,484.4 778.5,483"/>
<line x1="812" y1="483" x2="812" y2="469"/><polygon points="810.6,469.5 813.4,469.5 812,466.5"/>
<line x1="812" y1="483" x2="830" y2="483"/><polygon points="829.5,481.6 829.5,484.4 832.5,483"/>
</g>
<g font-size="5.5" fill="#222">
<text transform="translate(754.5,475) rotate(-90)" text-anchor="middle">UMAP 2</text>
<text x="768" y="493" text-anchor="middle">UMAP 1</text>
<text transform="translate(808.5,475) rotate(-90)" text-anchor="middle">UMAP 2</text>
<text x="822" y="493" text-anchor="middle">UMAP 1</text>
<circle cx="852" cy="488" r="0.7" fill="#aaa"/><text x="854" y="490">Off</text>
<circle cx="852" cy="495" r="1.1" fill="#2a3ba8"/><text x="854" y="497">On</text>
</g>
</svg>
</body></html>
